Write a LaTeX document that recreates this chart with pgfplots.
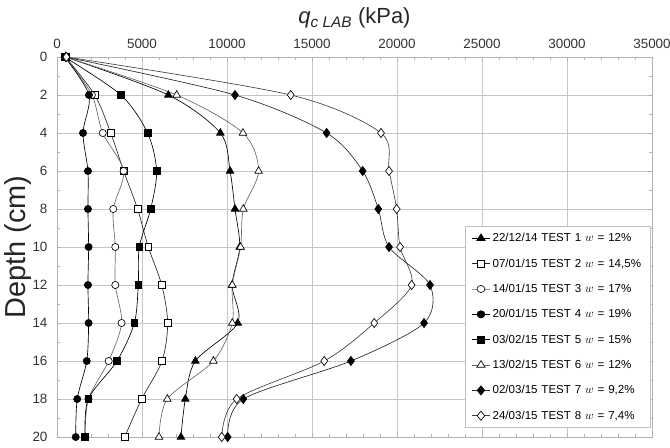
\documentclass[border=0pt]{standalone}
\usepackage{fontspec}
\setmainfont{Liberation Sans}
\usepackage{pgfplots}
\pgfplotsset{compat=1.18}

\begin{document}
\begin{tikzpicture}
\begin{axis}[
  scale only axis,
  width=595bp, height=380bp,
  xmin=0, xmax=35000, ymin=0, ymax=20,
  y dir=reverse,
  xtick={0,5000,...,35000},
  ytick={0,2,...,20},
  minor x tick num=4,
  minor y tick num=1,
  xticklabel pos=upper,
  scaled x ticks=false,
  /pgf/number format/.cd, 1000 sep={}, assume math mode=true,
  /pgfplots/.cd,
  tick label style={font=\fontsize{13.5}{16}\selectfont, text=black!80},
  xticklabel style={yshift=5bp},
  yticklabel style={xshift=-6bp},
  xlabel={\textit{q}\textsubscript{\textit{c LAB}} (kPa)},
  ylabel={Depth (cm)},
  xlabel style={font=\fontsize{22}{26}\selectfont, text=black!85, yshift=4bp},
  ylabel style={font=\fontsize{29}{32}\selectfont, text=black!85, yshift=-6bp},
  grid=major,
  major grid style={gray!45, line width=0.6pt},
  axis line style={gray!60, line width=0.6pt},
  tick style={gray!60, line width=0.5pt},
  major tick length=4bp, minor tick length=3bp,
  tick align=inside,
  legend style={
    at={(0.998,0.024)}, anchor=south east,
    draw=gray!50, fill=white,
    font=\fontsize{11.6}{14}\selectfont,
    row sep=11.5bp, inner xsep=6bp, inner ysep=5bp,
    cells={anchor=west},
    /tikz/every even column/.append style={text width=150bp},
  },
  legend image post style={xscale=1.1},
  every axis plot/.append style={smooth, tension=0.5, line width=0.65pt},
]
% Test 1: filled triangles
\addplot[black, mark=triangle*, mark size=4.4pt, mark options={fill=black}] coordinates {
 (500,0) (6550,2) (9610,4) (10180,6) (10470,8) (10750,10) (10300,12) (10630,14) (8140,16) (7550,18) (7290,20)};
\addlegendentry{22/12/14 TEST 1 $w$ = 12\%}
% Test 2: open squares
\addplot[black!85, mark=square*, mark size=3.4pt, mark options={fill=white, draw=black}] coordinates {
 (500,0) (2220,2) (3160,4) (3920,6) (4740,8) (5370,10) (6160,12) (6510,14) (6180,16) (4980,18) (3980,20)};
\addlegendentry{07/01/15 TEST 2 $w$ = 14,5\%}
% Test 3: open circles
\addplot[gray!80!black, mark=*, mark size=3.6pt, mark options={fill=white, draw=black}] coordinates {
 (500,0) (2050,2) (2690,4) (3920,6) (3310,8) (3430,10) (3430,12) (3800,14) (3040,16) (1850,18) (1650,20)};
\addlegendentry{14/01/15 TEST 3 $w$ = 17\%}
% Test 4: filled circles
\addplot[black, mark=*, mark size=3.6pt, mark options={fill=black}] coordinates {
 (450,0) (1880,2) (1530,4) (1820,6) (1820,8) (1860,10) (1820,12) (1860,14) (1750,16) (1190,18) (1100,20)};
\addlegendentry{20/01/15 TEST 4 $w$ = 19\%}
% Test 5: filled squares
\addplot[black, mark=square*, mark size=3.4pt, mark options={fill=black}] coordinates {
 (450,0) (3760,2) (5330,4) (5860,6) (5510,8) (4840,10) (4780,12) (4550,14) (3530,16) (1840,18) (1650,20)};
\addlegendentry{03/02/15 TEST 5 $w$ = 15\%}
% Test 6: open triangles
\addplot[gray!80!black, mark=triangle*, mark size=4.4pt, mark options={fill=white, draw=black}] coordinates {
 (500,0) (7040,2) (10940,4) (11860,6) (10960,8) (10800,10) (10310,12) (10310,14) (9200,16) (6490,18) (6000,20)};
\addlegendentry{13/02/15 TEST 6 $w$ = 12\%}
% Test 7: filled diamonds
\addplot[black!85, mark=diamond*, mark size=4.6pt, mark options={fill=black, draw=black}] coordinates {
 (500,0) (10470,2) (15860,4) (17980,6) (18900,8) (19530,10) (21940,12) (21590,14) (17290,16) (10960,18) (10040,20)};
\addlegendentry{02/03/15 TEST 7 $w$ = 9,2\%}
% Test 8: open diamonds
\addplot[black!75, mark=diamond*, mark size=4.6pt, mark options={fill=white, draw=black}] coordinates {
 (550,0) (13750,2) (19060,4) (19530,6) (19980,8) (20180,10) (20860,12) (18660,14) (15720,16) (10570,18) (9690,20)};
\addlegendentry{24/03/15 TEST 8 $w$ = 7,4\%}
\end{axis}
\pgfresetboundingbox
\useasboundingbox ([shift={(-57bp,-11bp)}]current axis.south west) rectangle ([shift={(18bp,57bp)}]current axis.north east);
\end{tikzpicture}
\end{document}
